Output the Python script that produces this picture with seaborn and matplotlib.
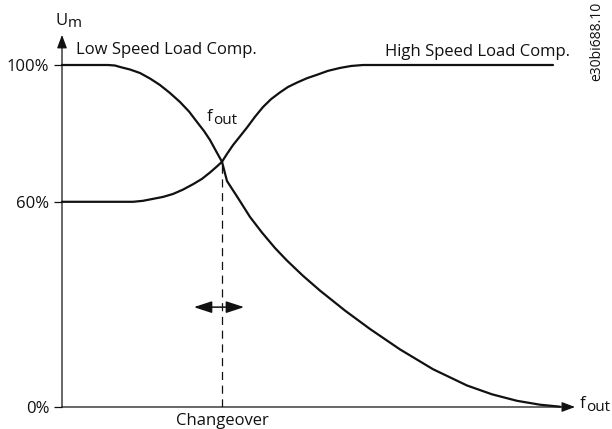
import matplotlib
matplotlib.use("Agg")
import matplotlib.pyplot as plt
import seaborn as sns
import pandas as pd

# Output frequency (% of axis span) and motor voltage U_m (%)
low_f = [0.0, 8.97, 10.33, 11.31, 13.26, 15.20, 17.15, 19.10, 21.05, 23.00,
         24.76, 26.32, 27.68, 28.85, 30.02, 31.19, 32.16, 34.31, 36.65, 38.99,
         41.52, 43.86, 46.98, 50.29, 55.17, 60.04, 65.89, 72.32, 78.95, 83.82,
         88.69, 93.18, 97.08]
low_u = [100.0, 100.0, 99.85, 99.42, 98.68, 97.66, 96.05, 94.15, 91.81, 89.18,
         86.40, 83.33, 80.70, 78.07, 74.85, 71.7, 66.08, 61.11, 55.56, 50.99,
         46.49, 42.81, 38.36, 34.04, 28.19, 22.81, 16.84, 11.05, 6.29, 3.71,
         1.81, 0.67, 0.09]

high_f = [0.0, 13.84, 15.79, 17.74, 19.69, 21.64, 23.59, 25.54, 27.29, 28.85,
          30.02, 31.19, 32.16, 33.33, 34.70, 36.06, 37.62, 39.18, 40.74, 42.50,
          44.05, 45.81, 47.76, 49.71, 51.85, 54.19, 56.34, 58.67, 95.71]
high_u = [60.0, 60.0, 60.29, 60.86, 61.43, 62.29, 63.57, 65.14, 66.71, 68.57,
          70.1, 71.7, 74.0, 76.57, 79.14, 81.71, 84.86, 87.71, 90.0, 92.0,
          93.57, 94.86, 96.14, 97.14, 98.29, 99.14, 99.71, 100.0, 100.0]

changeover_f = 31.19
changeover_u = 71.7

ytick_vals = [0, 60, 100]
ytick_labels = ["0%", "60%", "100%"]

sns.set_theme(style="white")
plt.rcParams["font.family"] = ["Open Sans", "DejaVu Sans"]

ink = "#111111"
fs = 12

fig = plt.figure(figsize=(6.12, 4.29), dpi=100)
ax = fig.add_axes([62 / 612, 22 / 429, 513 / 612, 342 / 429])

df_low = pd.DataFrame({"f": low_f, "u": low_u})
df_high = pd.DataFrame({"f": high_f, "u": high_u})
line_kw = dict(color=ink, lw=1.6, sort=False, estimator=None, clip_on=False)
sns.lineplot(data=df_low, x="f", y="u", ax=ax, **line_kw)
sns.lineplot(data=df_high, x="f", y="u", ax=ax, **line_kw)
for ln in ax.lines:
    ln.set_solid_joinstyle("round")

ax.set_xlim(0, 100)
ax.set_ylim(0, 100)
for s in ax.spines.values():
    s.set_visible(False)

# axes with arrowheads
axis_kw = dict(arrowstyle="-|>,head_length=0.8,head_width=0.3", color=ink,
               lw=0.9, shrinkA=0, shrinkB=0, mutation_scale=10)
ax.annotate("", xy=(0, 108.8), xytext=(0, 0), xycoords="data",
            arrowprops=axis_kw, annotation_clip=False)
ax.annotate("", xy=(100, 0), xytext=(0, 0), xycoords="data",
            arrowprops=axis_kw, annotation_clip=False)

ax.set_yticks(ytick_vals)
ax.set_yticklabels(ytick_labels)
ax.set_xticks([])
ax.tick_params(axis="y", left=True, length=6, width=0.9, pad=3,
               color=ink, labelcolor=ink, labelsize=fs)
ax.set_xlabel("")
ax.set_ylabel("")

# changeover marker
ax.plot([changeover_f, changeover_f], [0, changeover_u], color=ink, lw=0.9,
        ls=(0, (6.5, 4.5)))
ax.annotate("", xy=(35.5, 29.2), xytext=(25.7, 29.2),
            arrowprops=dict(arrowstyle="<|-|>,head_length=1.1,head_width=0.36",
                            color=ink, lw=1.1, shrinkA=0, shrinkB=0,
                            mutation_scale=10))


def sub_label(x, y, main, sub, drop=3.8):
    """Symbol with a large subscript, placed with its baseline at (x, y)."""
    t = ax.text(x, y, main, fontsize=fs, ha="left", va="baseline",
                color=ink, clip_on=False)
    ax.annotate(sub, xy=(1.0, 0.0), xycoords=t, xytext=(0.3, -drop),
                textcoords="offset points", fontsize=fs - 1, ha="left",
                va="bottom", color=ink, annotation_clip=False)


# labels
sub_label(-1.36, 111.7, "U", "m", drop=1.5)
sub_label(28.3, 83.6, "f", "out", drop=2.0)
sub_label(101.0, -0.3, "f", "out", drop=2.0)
ax.text(2.7, 104.4, "Low Speed Load Comp.", fontsize=fs, ha="left",
        va="center", color=ink, clip_on=False)
ax.text(63.0, 103.8, "High Speed Load Comp.", fontsize=fs, ha="left",
        va="center", color=ink, clip_on=False)
ax.text(31.2, -4.0, "Changeover", fontsize=fs, ha="center", va="center",
        color=ink, clip_on=False)
fig.text(597 / 612, 1 - 41 / 429, "e30bi688.10", fontsize=10, rotation=90,
         ha="center", va="center", color=ink)

fig.savefig("out.png", dpi=100, facecolor="white")
